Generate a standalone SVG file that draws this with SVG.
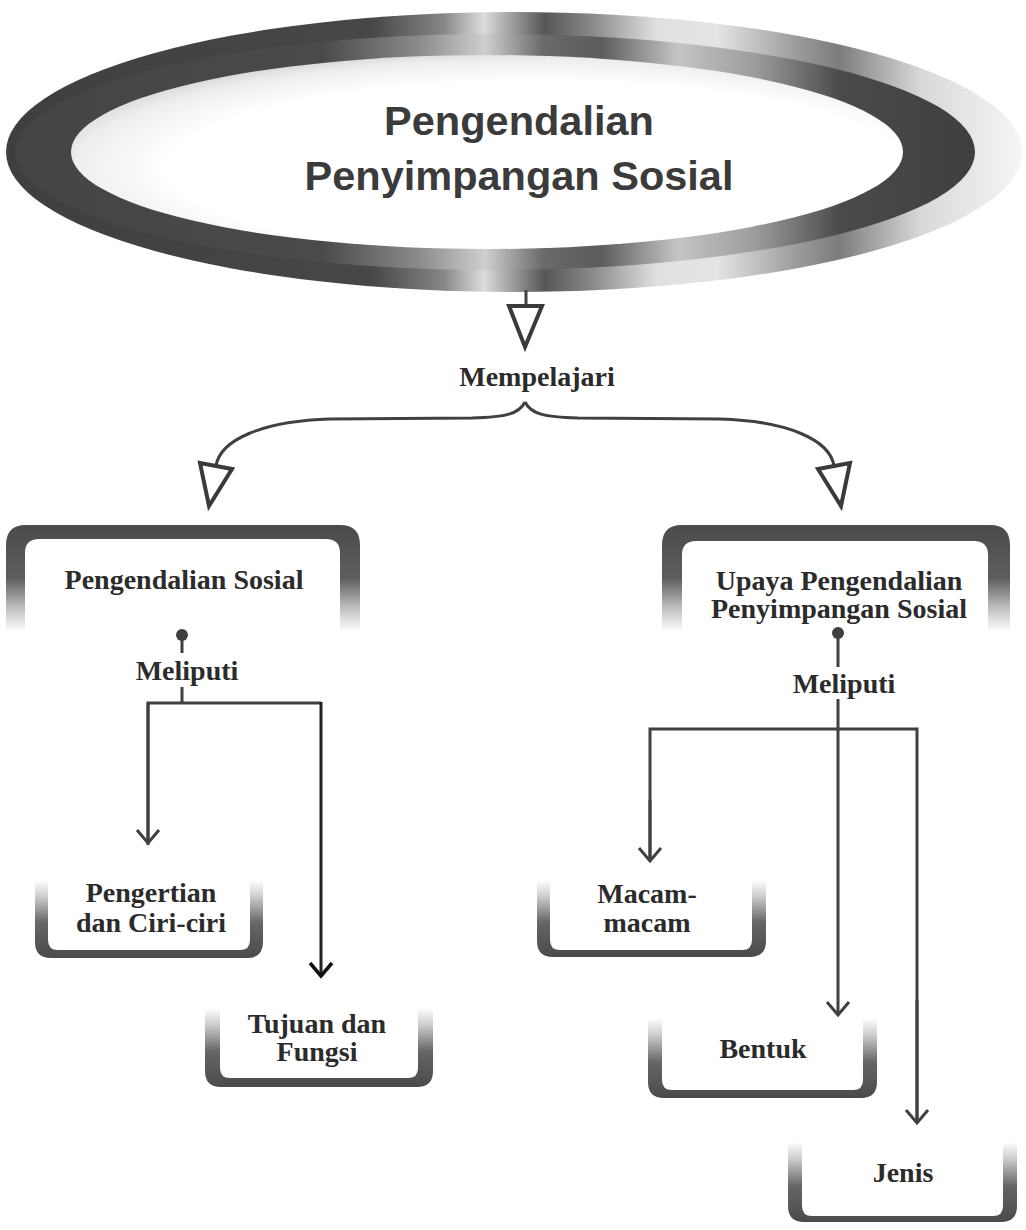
<svg xmlns="http://www.w3.org/2000/svg" width="1026" height="1230" viewBox="0 0 1026 1230">
<style>
.title{font-family:"Liberation Sans",Arial,sans-serif;font-weight:bold;font-size:41.5px;fill:#3b3b3b;text-anchor:middle}
.lbl{font-family:"Liberation Serif","Times New Roman",serif;font-weight:bold;font-size:28px;fill:#2b2b2b;text-anchor:middle}
.ln{fill:none;stroke:#404040;stroke-width:3}
.tri{fill:#fff;stroke:#3a3a3a;stroke-width:4;stroke-linejoin:miter}
.topframe{fill:url(#gTop);fill-rule:evenodd}
.botframe{fill:url(#gBot);fill-rule:evenodd}
</style>
<defs>
<linearGradient id="gA" gradientUnits="userSpaceOnUse" x1="6" y1="0" x2="1022" y2="0">
<stop offset="0" stop-color="#3f3f3f"/>
<stop offset="0.36" stop-color="#474747"/>
<stop offset="0.43" stop-color="#858585"/>
<stop offset="0.47" stop-color="#dcdcdc"/>
<stop offset="0.50" stop-color="#9a9a9a"/>
<stop offset="0.53" stop-color="#565656"/>
<stop offset="0.58" stop-color="#8d8d8d"/>
<stop offset="0.64" stop-color="#e0e0e0"/>
<stop offset="0.70" stop-color="#e4e4e4"/>
<stop offset="0.78" stop-color="#9a9a9a"/>
<stop offset="0.82" stop-color="#7c7c7c"/>
<stop offset="0.90" stop-color="#d8d8d8"/>
<stop offset="1" stop-color="#f6f6f6"/>
</linearGradient>
<linearGradient id="gB" gradientUnits="userSpaceOnUse" x1="15" y1="0" x2="975" y2="0">
<stop offset="0" stop-color="#444"/>
<stop offset="0.32" stop-color="#4a4a4a"/>
<stop offset="0.42" stop-color="#8a8a8a"/>
<stop offset="0.49" stop-color="#cfcfcf"/>
<stop offset="0.55" stop-color="#6a6a6a"/>
<stop offset="0.61" stop-color="#5c5c5c"/>
<stop offset="0.69" stop-color="#c4c4c4"/>
<stop offset="0.77" stop-color="#9d9d9d"/>
<stop offset="0.86" stop-color="#4a4a4a"/>
<stop offset="1" stop-color="#3f3f3f"/>
</linearGradient>
<radialGradient id="gC" cx="0.56" cy="0.58" r="0.62">
<stop offset="0" stop-color="#ffffff"/>
<stop offset="0.72" stop-color="#ffffff"/>
<stop offset="0.9" stop-color="#ededed"/>
<stop offset="1" stop-color="#d2d2d2"/>
</radialGradient>
<linearGradient id="gTop" x1="0" y1="0" x2="0" y2="1">
<stop offset="0" stop-color="#4a4a4a"/>
<stop offset="0.5" stop-color="#5e5e5e"/>
<stop offset="0.8" stop-color="#c8c8c8"/>
<stop offset="1" stop-color="#ffffff"/>
</linearGradient>
<linearGradient id="gBot" x1="0" y1="1" x2="0" y2="0">
<stop offset="0" stop-color="#4a4a4a"/>
<stop offset="0.45" stop-color="#666"/>
<stop offset="0.8" stop-color="#d0d0d0"/>
<stop offset="1" stop-color="#ffffff"/>
</linearGradient>
<marker id="arr" markerUnits="userSpaceOnUse" markerWidth="30" markerHeight="30" viewBox="-15 -15 30 30" refX="0" refY="0" orient="auto">
<path d="M-13,-11 L0,0 L-13,11" fill="none" stroke="#404040" stroke-width="3"/>
</marker>
<marker id="arrK" markerUnits="userSpaceOnUse" markerWidth="30" markerHeight="30" viewBox="-15 -15 30 30" refX="0" refY="0" orient="auto">
<path d="M-13,-11 L0,0 L-13,11" fill="none" stroke="#111" stroke-width="3.5"/>
</marker>
</defs>
<rect width="1026" height="1230" fill="#fff"/>

<g id="node-title">
<ellipse cx="514" cy="152" rx="508" ry="140" fill="url(#gA)"/>
<ellipse cx="495" cy="152" rx="480" ry="118" fill="url(#gB)"/>
<ellipse cx="487" cy="152" rx="416" ry="97" fill="url(#gC)"/>
<text class="title" x="519" y="135">Pengendalian</text>
<text class="title" x="519" y="190">Penyimpangan Sosial</text>
</g>

<g id="node-mempelajari">
<text class="lbl" x="537" y="386">Mempelajari</text>
</g>

<g id="node-pengendalian-sosial">
<path class="topframe" d="M6 632 L6 545 Q6 525 26 525 L340 525 Q360 525 360 545 L360 632 Z M25 632 L25 553 Q25 539 39 539 L326 539 Q340 539 340 553 L340 632 Z"/>
<text class="lbl" x="184" y="589">Pengendalian Sosial</text>
</g>

<g id="node-upaya">
<path class="topframe" d="M662 632 L662 545 Q662 525 682 525 L990 525 Q1010 525 1010 545 L1010 632 Z M682 632 L682 555 Q682 541 696 541 L974 541 Q988 541 988 555 L988 632 Z"/>
<text class="lbl" x="839" y="590">Upaya Pengendalian</text>
<text class="lbl" x="839" y="618">Penyimpangan Sosial</text>
</g>

<g id="node-pengertian">
<path class="botframe" d="M35 880 L35 942 Q35 958 51 958 L247 958 Q263 958 263 942 L263 880 Z M48 880 L48 940 Q48 950 58 950 L240 950 Q250 950 250 940 L250 880 Z"/>
<text class="lbl" x="151" y="902">Pengertian</text>
<text class="lbl" x="151" y="932">dan Ciri-ciri</text>
</g>

<g id="node-tujuan">
<path class="botframe" d="M205 1008 L205 1071 Q205 1087 221 1087 L417 1087 Q433 1087 433 1071 L433 1008 Z M220 1008 L220 1068 Q220 1078 230 1078 L408 1078 Q418 1078 418 1068 L418 1008 Z"/>
<text class="lbl" x="317" y="1033">Tujuan dan</text>
<text class="lbl" x="317" y="1061">Fungsi</text>
</g>

<g id="node-macam">
<path class="botframe" d="M537 880 L537 941 Q537 957 553 957 L750 957 Q766 957 766 941 L766 880 Z M550 880 L550 940 Q550 950 560 950 L742 950 Q752 950 752 940 L752 880 Z"/>
<text class="lbl" x="647" y="903">Macam-</text>
<text class="lbl" x="647" y="932">macam</text>
</g>

<g id="node-bentuk">
<path class="botframe" d="M648 1018 L648 1082 Q648 1098 664 1098 L861 1098 Q877 1098 877 1082 L877 1018 Z M662 1018 L662 1080 Q662 1090 672 1090 L853 1090 Q863 1090 863 1080 L863 1018 Z"/>
<text class="lbl" x="763" y="1058">Bentuk</text>
</g>

<g id="node-jenis">
<path class="botframe" d="M788 1142 L788 1206 Q788 1222 804 1222 L1001 1222 Q1017 1222 1017 1206 L1017 1142 Z M802 1142 L802 1206 Q802 1216 812 1216 L993 1216 Q1003 1216 1003 1206 L1003 1142 Z"/>
<text class="lbl" x="903" y="1182">Jenis</text>
</g>

<g id="connectors">
<line class="ln" x1="526" y1="290" x2="526" y2="306" stroke-width="4"/>
<polygon class="tri" points="509,306 542,306 525,347"/>
<path class="ln" stroke-width="4" d="M525 402 C519 414 506 417 472 418 L330 419 C262 421 220 440 216 466"/>
<path class="ln" stroke-width="4" d="M525 402 C531 414 544 417 578 418 L720 419 C788 421 830 440 834 466"/>
<polygon class="tri" points="200,463 232,469 209,506"/>
<polygon class="tri" points="818,469 850,463 841,506"/>

<circle cx="182" cy="635" r="6" fill="#404040"/>
<line class="ln" x1="182" y1="635" x2="182" y2="653"/>
<text class="lbl" x="187" y="680">Meliputi</text>
<line class="ln" x1="182" y1="687" x2="182" y2="703"/>
<polyline class="ln" points="148,845 148,703 321,703"/>
<line class="ln" x1="148" y1="703" x2="148" y2="843" marker-end="url(#arr)"/>
<line x1="321" y1="702" x2="321" y2="976" stroke="#222" stroke-width="3" marker-end="url(#arrK)"/>

<circle cx="838" cy="633" r="6" fill="#404040"/>
<line class="ln" x1="838" y1="633" x2="838" y2="667"/>
<text class="lbl" x="844" y="693">Meliputi</text>
<line class="ln" x1="838" y1="699" x2="838" y2="1015" marker-end="url(#arr)"/>
<polyline class="ln" points="650,861 650,729 917,729 917,1123"/>
<line class="ln" x1="650" y1="800" x2="650" y2="861" marker-end="url(#arr)"/>
<line class="ln" x1="917" y1="1000" x2="917" y2="1123" marker-end="url(#arr)"/>
</g>
</svg>
